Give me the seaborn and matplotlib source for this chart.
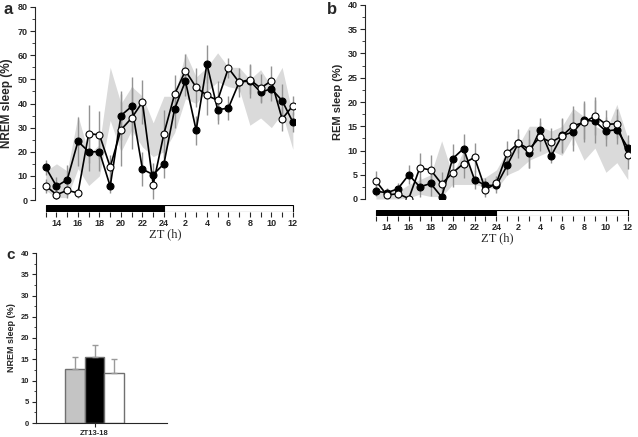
import numpy as np
import pandas as pd
import seaborn as sns
import matplotlib.pyplot as plt
from matplotlib.ticker import MultipleLocator

sns.set_style("ticks")
plt.rcParams["font.family"] = ["Liberation Sans", "DejaVu Sans"]

zt = list(range(13, 37))

# panel a: NREM sleep (%)
nrem_black = [13.5, 5.7, 8.4, 24.3, 20, 20, 5.7, 35, 38.8, 12.8, 10.5, 15,
              37.8, 49.3, 28.9, 56.4, 37.4, 38.1, 48.8, 49.4, 44.7, 46.1, 41.2, 32.3]
nrem_white = [5.9, 2.2, 4, 2.9, 27.5, 27, 13.7, 29.1, 34, 40.6, 6.4, 27.5,
              43.9, 53.6, 46.7, 43.4, 41.3, 54.7, 48.8, 49.9, 46.4, 49.4, 33.6, 39.1]
nrem_black_err = [3, 4, 6, 10, 8, 8, 3, 10, 12, 7, 5, 6, 8, 6, 6, 8, 6, 5, 4, 7, 4, 5, 7, 4]
nrem_white_err = [3, 2, 3, 2, 12, 10, 5, 15, 13, 9, 6, 10, 8, 7, 8, 8, 8, 4, 6, 6, 6, 6, 5, 4]
nrem_band_hi = [12, 15, 12, 35, 19, 23, 55, 40, 47, 43, 32, 43,
                43, 61, 51, 55, 61, 55, 55, 50, 54, 47, 55, 35]
nrem_band_lo = [4, 1, 1, 13, 6, 10, 33, 20, 29, 22, 18, 20,
                28, 42, 40, 45, 49, 47, 46, 31, 34, 30, 36, 21]

# panel b: REM sleep (%)
rem_black = [1.6, 1.3, 2.1, 5, 2.5, 3.2, 0.4, 8.3, 10.4, 4, 2.8, 2.8,
             7, 11.5, 9.4, 14.3, 8.9, 13.1, 13.8, 16.3, 16, 14, 14.3, 10.6]
rem_white = [3.7, 0.8, 1.1, 0.1, 6.4, 6, 3.1, 5.4, 7.3, 8.6, 1.9, 3.3,
             9.5, 11.5, 10.3, 12.8, 11.7, 13, 15.1, 15.8, 17.1, 15.4, 15.5, 9.1]
rem_black_err = [1, 1, 1.3, 2, 2, 2.5, 0.5, 3, 3, 2, 1.5, 1.5,
                 2, 2, 3, 2.5, 1.5, 3.5, 4, 4, 4.5, 3, 3, 2.5]
rem_white_err = [2, 1, 1, 0.5, 3, 3, 2.5, 3, 3, 3, 1.5, 1.5,
                 2.5, 3, 4, 3, 3, 3.5, 4, 4, 4, 3, 3, 3]
rem_band_hi = [1, 2, 1.5, 3, 4, 5, 12, 5, 10, 4, 4.5, 6,
               10, 11, 15, 15, 14, 15, 18.7, 17, 15, 14, 19.5, 12.5]
rem_band_lo = [0, 0, 0, 0.2, 1, 0.5, 0.5, 3, 3, 3, 2.5, 2,
               5, 6, 8, 9, 10, 9, 13, 8, 10.5, 5.5, 7.5, 4]

# panel c
bar_groups = ["gray", "black", "white"]
bar_values = [12.7, 15.5, 11.7]
bar_err = [2.9, 2.9, 3.4]
bar_colors = ["#c4c4c4", "#000000", "#ffffff"]

W, H = 638, 437
fig = plt.figure(figsize=(W / 100, H / 100), dpi=100)


def box(left, top, right, bottom):
    return [left / W, 1 - bottom / H, (right - left) / W, (bottom - top) / H]


def series_panel(ax, black, white, berr, werr, hi, lo, ymax, ylabel, lsize):
    ax.fill_between(zt, lo, hi, color="#dadada", lw=0)
    ax.vlines(zt, np.array(black) - berr, np.array(black) + berr, color="#939393", lw=1)
    ax.vlines(zt, np.array(white) - werr, np.array(white) + werr, color="#939393", lw=1)
    sns.lineplot(x=zt, y=black, ax=ax, color="black", lw=1.2, marker="o", ms=5,
                 markerfacecolor="black", markeredgecolor="black", mew=0.8)
    sns.lineplot(x=zt, y=white, ax=ax, color="black", lw=1.2, marker="o", ms=5,
                 markerfacecolor="white", markeredgecolor="black", mew=0.8)
    ax.set_xlim(12, 36.2)
    ax.set_ylim(0, ymax)
    ax.yaxis.set_major_locator(MultipleLocator(ymax / 8))
    ax.yaxis.set_minor_locator(MultipleLocator(ymax / 16))
    ax.tick_params(axis="y", which="major", length=3.5, width=0.8, labelsize=6.5, pad=2)
    ax.tick_params(axis="y", which="minor", length=2, width=0.6)
    for lab in ax.get_yticklabels():
        lab.set_fontweight("bold")
    ax.set_xticks([])
    sns.despine(ax=ax, bottom=True)
    ax.spines["left"].set_linewidth(0.8)
    ax.set_ylabel(ylabel, fontsize=lsize, fontweight="bold", labelpad=3)


def timeline(ax):
    ax.barh(0.5, 11, left=13, height=1, color="black", edgecolor="black", lw=0.8)
    ax.barh(0.5, 12, left=24, height=1, color="white", edgecolor="black", lw=0.8)
    ax.set_xlim(12, 36.2)
    ax.set_ylim(0, 1)
    ax.set_yticks([])
    ax.set_xticks(range(14, 37, 2))
    ax.set_xticklabels([str(v if v <= 24 else v - 24) for v in range(14, 37, 2)],
                       fontweight="bold")
    ax.set_xticks(range(13, 37, 2), minor=True)
    ax.tick_params(axis="x", which="major", length=3.5, width=0.8, labelsize=6.5, pad=1.5)
    ax.tick_params(axis="x", which="minor", length=3.5, width=0.8)
    for s in ax.spines.values():
        s.set_visible(False)
    ax.set_xlabel("ZT (h)", family=["Liberation Serif", "DejaVu Serif"], fontsize=9, labelpad=0)


ax_a = fig.add_axes(box(35, 7, 295, 200))
series_panel(ax_a, nrem_black, nrem_white, nrem_black_err, nrem_white_err,
             nrem_band_hi, nrem_band_lo, 80, "NREM sleep (%)", 8.5)
tl_a = fig.add_axes(box(35, 205, 295, 212))
timeline(tl_a)

ax_b = fig.add_axes(box(365, 5, 630, 199))
series_panel(ax_b, rem_black, rem_white, rem_black_err, rem_white_err,
             rem_band_hi, rem_band_lo, 40, "REM sleep (%)", 8)
tl_b = fig.add_axes(box(365, 210, 630, 216))
timeline(tl_b)

# panel c
ax_c = fig.add_axes(box(36, 253, 167, 423))
df_c = pd.DataFrame({"group": bar_groups, "value": bar_values})
sns.barplot(data=df_c, x="group", y="value", hue="group", palette=bar_colors,
            width=1, edgecolor="#707070", linewidth=1, legend=False, ax=ax_c)
ax_c.errorbar(range(3), bar_values, yerr=[[0, 0, 0], bar_err], fmt="none",
              ecolor="#9a9a9a", elinewidth=1, capsize=2.5, capthick=1)
ax_c.set_xlim(-1.97, 4.68)
ax_c.set_ylim(0, 40)
ax_c.yaxis.set_major_locator(MultipleLocator(5))
ax_c.yaxis.set_minor_locator(MultipleLocator(2.5))
ax_c.set_xticks([1])
ax_c.set_xticklabels(["ZT13-18"], fontweight="bold")
ax_c.tick_params(axis="both", which="major", length=3, width=0.8, labelsize=5.5, pad=2)
ax_c.tick_params(axis="y", which="minor", length=1.5, width=0.6)
for lab in ax_c.get_yticklabels():
    lab.set_fontweight("bold")
sns.despine(ax=ax_c)
for s in ("left", "bottom"):
    ax_c.spines[s].set_linewidth(0.8)
ax_c.set_xlabel("")
ax_c.set_ylabel("NREM sleep (%)", fontsize=6.5, fontweight="bold", labelpad=3)

fig.text(4 / W, 1 - 14 / H, "a", fontsize=12, fontweight="bold")
fig.text(327 / W, 1 - 14 / H, "b", fontsize=12, fontweight="bold")
fig.text(6 / W, 1 - 259 / H, "c", fontsize=11, fontweight="bold")

fig.savefig("out.png", dpi=100)
